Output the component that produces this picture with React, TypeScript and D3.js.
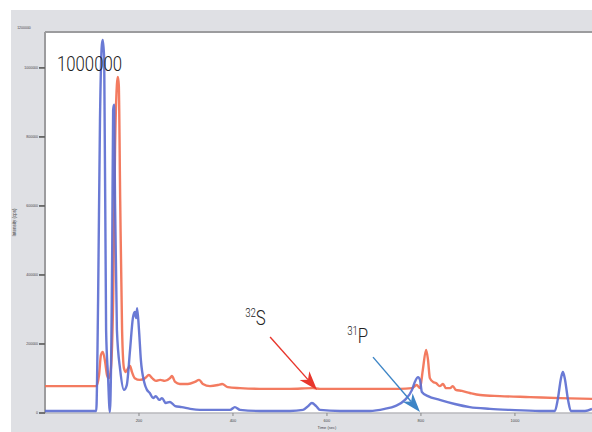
import * as d3 from 'd3'

// retention time (s) and intensity (cps)
const blueTime = [0, 109, 113, 117, 121, 123, 126, 130, 134, 138, 143, 145, 147, 149, 153, 160, 168, 174, 181, 187, 191, 194, 196, 200, 204, 211, 217, 223, 230, 236, 243, 249, 257, 266, 277, 291, 309, 330, 362, 394, 404, 415, 457, 521, 549, 560, 568, 577, 585, 628, 691, 723, 745, 766, 781, 787, 794, 798, 802, 815, 840, 872, 904, 947, 989, 1053, 1085, 1091, 1098, 1102, 1106, 1113, 1119, 1149, 1164]
const blueValue = [6000, 6000, 328000, 849000, 1067000, 1081000, 1023000, 241000, 110000, 3000, 472000, 878000, 893000, 617000, 241000, 125000, 67000, 81000, 183000, 275000, 293000, 275000, 304000, 241000, 154000, 90000, 67000, 58000, 43000, 49000, 38000, 43000, 29000, 32000, 20000, 17000, 12000, 9000, 9000, 9000, 17000, 9000, 6000, 6000, 9000, 20000, 29000, 20000, 9000, 6000, 6000, 12000, 20000, 38000, 67000, 90000, 104000, 96000, 61000, 49000, 38000, 26000, 17000, 12000, 9000, 6000, 6000, 38000, 101000, 119000, 101000, 38000, 6000, 6000, 12000]

const redTime = [0, 109, 115, 119, 123, 128, 132, 136, 140, 145, 149, 153, 155, 157, 160, 164, 168, 172, 177, 181, 185, 191, 202, 213, 221, 228, 236, 245, 255, 266, 270, 277, 287, 304, 319, 328, 336, 351, 368, 377, 389, 415, 457, 521, 570, 585, 670, 755, 781, 791, 798, 804, 811, 815, 819, 826, 832, 840, 847, 853, 862, 868, 874, 887, 904, 926, 968, 1032, 1096, 1164]
const redValue = [78000, 78000, 110000, 168000, 177000, 148000, 110000, 101000, 125000, 328000, 762000, 951000, 974000, 951000, 617000, 241000, 130000, 119000, 130000, 136000, 119000, 101000, 96000, 101000, 110000, 101000, 93000, 96000, 93000, 101000, 107000, 90000, 84000, 84000, 90000, 96000, 84000, 78000, 81000, 84000, 75000, 72000, 70000, 70000, 72000, 70000, 70000, 70000, 72000, 81000, 72000, 125000, 183000, 154000, 101000, 90000, 87000, 78000, 84000, 72000, 72000, 78000, 67000, 64000, 58000, 52000, 49000, 46000, 43000, 41000]

const yTicks = [0, 200000, 400000, 600000, 800000, 1000000]
const xTicks = [200, 400, 600, 800, 1000]

const width = 592
const height = 432
const marginTop = 32
const marginLeft = 45
const marginBottom = 19

type Pt = { t: number; v: number }

export default function App() {
    const x = d3.scaleLinear().domain([0, 1164]).range([marginLeft, width])
    const y = d3
        .scaleLinear()
        .domain([0, 1104000])
        .range([height - marginBottom, marginTop])

    const line = d3
        .line<Pt>()
        .x((d) => x(d.t))
        .y((d) => y(d.v))
        .curve(d3.curveMonotoneX)

    const blue: Pt[] = blueTime.map((t, i) => ({ t, v: blueValue[i] }))
    const red: Pt[] = redTime.map((t, i) => ({ t, v: redValue[i] }))

    // arrow drawn from (t0,v0) to tip (t1,v1)
    const arrow = (t0: number, v0: number, t1: number, v1: number, color: string) => {
        const x0 = x(t0)
        const y0 = y(v0)
        const x1 = x(t1)
        const y1 = y(v1)
        const a = Math.atan2(y1 - y0, x1 - x0)
        const L = 19
        const w = 6.5
        const bx = x1 - L * Math.cos(a)
        const by = y1 - L * Math.sin(a)
        const nx = x1 - L * 0.72 * Math.cos(a)
        const ny = y1 - L * 0.72 * Math.sin(a)
        const px = -Math.sin(a) * w
        const py = Math.cos(a) * w
        return (
            <g>
                <line x1={x0} y1={y0} x2={nx} y2={ny} stroke={color} strokeWidth={1.4} />
                <polygon
                    points={`${x1},${y1} ${bx + px},${by + py} ${nx},${ny} ${bx - px},${by - py}`}
                    fill={color}
                />
            </g>
        )
    }

    // condensed light label, squeezed horizontally around its left edge
    const label = (px: number, py: number, sup: string, main: string) => (
        <g transform={`translate(${px},${py}) scale(0.8,1)`}>
            <text fontSize={21} fill="#222" fontFamily="Roboto, sans-serif" fontWeight={300}>
                <tspan fontSize={12} dy={-8}>{sup}</tspan>
                <tspan dy={8}>{main}</tspan>
            </text>
        </g>
    )

    const y0 = height - marginBottom

    return (
        <svg
            width={width}
            height={height}
            style={{ position: 'absolute', left: 0, top: 0, background: 'white' }}
        >
            <rect x={11} y={10} width={width - 11} height={height - 10} fill="#dfe0e4" />
            <rect x={marginLeft} y={marginTop} width={width - marginLeft} height={y0 - marginTop} fill="#fff" />
            <line x1={marginLeft} x2={width} y1={y0} y2={y0} stroke="#b9b9bd" strokeWidth={1.5} />
            <line x1={marginLeft} x2={width} y1={marginTop} y2={marginTop} stroke="#9c9c9e" strokeWidth={2} />
            <line x1={marginLeft} x2={marginLeft} y1={marginTop} y2={y0} stroke="#9c9c9e" strokeWidth={2} />

            {yTicks.map((v) => (
                <g key={v}>
                    <line x1={marginLeft - 6} x2={marginLeft} y1={y(v)} y2={y(v)} stroke="#666" strokeWidth={1.8} />
                    <text
                        x={marginLeft - 7}
                        y={y(v)}
                        dy="0.35em"
                        textAnchor="end"
                        fontSize={3.5}
                        fill="#444"
                        fontFamily="Arial, sans-serif"
                    >
                        {v}
                    </text>
                </g>
            ))}
            <text x={24} y={29} textAnchor="middle" fontSize={3.5} fill="#444" fontFamily="Arial, sans-serif">
                1200000
            </text>
            {xTicks.map((t) => (
                <g key={t}>
                    <line x1={x(t)} x2={x(t)} y1={y0} y2={y0 + 3} stroke="#888" strokeWidth={1} />
                    <text x={x(t)} y={y0 + 9} textAnchor="middle" fontSize={4} fill="#444" fontFamily="Arial, sans-serif">
                        {t}
                    </text>
                </g>
            ))}
            <text x={x(600)} y={429} textAnchor="middle" fontSize={4} fill="#444" fontFamily="Arial, sans-serif">
                Time (sec)
            </text>
            <text
                transform={`translate(16,${(marginTop + y0) / 2}) rotate(-90)`}
                textAnchor="middle"
                fontSize={4.5}
                fill="#444"
                fontFamily="Arial, sans-serif"
            >
                Intensity (cps)
            </text>

            <path d={line(red) ?? undefined} fill="none" stroke="#f26d4f" strokeWidth={2.4} strokeOpacity={0.9} />
            <path d={line(blue) ?? undefined} fill="none" stroke="#5a6bd0" strokeWidth={2.4} strokeOpacity={0.9} />

            <text
                x={57}
                y={71}
                fontSize={21}
                fill="#222"
                fontFamily="Roboto, sans-serif"
                fontWeight={300}
                textLength={65}
                lengthAdjust="spacingAndGlyphs"
            >
                1000000
            </text>

            {arrow(479, 220000, 579, 67000, '#e8362c')}
            {arrow(698, 162000, 798, 3000, '#3d85c6')}

            {label(x(426), y(255000), '32', 'S')}
            {label(x(643), y(203000), '31', 'P')}
        </svg>
    )
}
